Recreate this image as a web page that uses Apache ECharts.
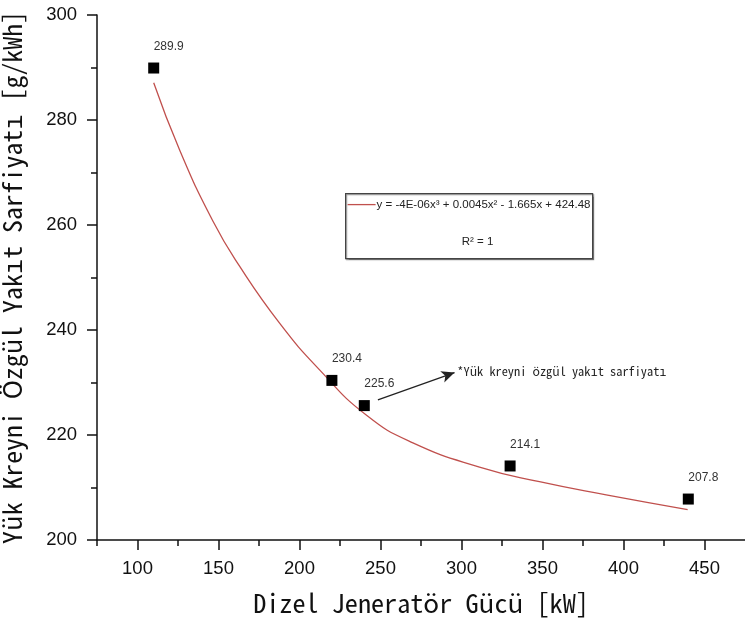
<!DOCTYPE html>
<html>
<head>
<meta charset="utf-8">
<script src="https://cdn.jsdelivr.net/npm/echarts@6/dist/echarts.min.js"></script>
<style>html,body{margin:0;padding:0;background:#fff}#c{width:745px;height:623px}</style>
</head>
<body>
<div id="c"></div>
<script>
// Measured points
const powerKW = [110, 220, 240, 330, 440];
const sfc = [289.9, 230.4, 225.6, 214.1, 207.8];
// Trend curve
const fitX = [110, 126.0, 146.6, 163.1, 187.7, 212.4, 241.2, 270.0, 311.1, 348.1, 389.3, 439.6];
const fitY = [287.1, 274.3, 260.7, 252.1, 241.3, 232.4, 223.8, 218.5, 213.9, 211.1, 208.6, 205.8];
const xMajorTicks = [100, 150, 200, 250, 300, 350, 400, 450];
const xMinorTicks = [75, 125, 175, 225, 275, 325, 375, 425];
// Annotation arrow (start, end) in data units
const arrowFrom = [248.4, 226.7];
const arrowTo = [295.7, 231.9];

const xTitle = 'Dizel Jeneratör Gücü [kW]';
const yTitle = 'Yük Kreyni Özgül Yakıt Sarfiyatı [g/kWh]';
const noteText = '*Yük kreyni özgül yakıt sarfiyatı';
const eqText = 'y = -4E-06x³ + 0.0045x² - 1.665x + 424.48';
const r2Text = 'R² = 1';

const mono = '"Noto Sans Mono CJK JP", "Noto Sans Mono CJK SC", "Noto Sans Mono", "DejaVu Sans Mono", "Liberation Mono", monospace';
const sans = '"Liberation Sans", Arial, sans-serif';

const cv = document.createElement('canvas').getContext('2d');
function fitSize(text, fam, w) { cv.font = '100px ' + fam; return Math.round(100 * w / cv.measureText(text).width * 10) / 10; }
const xTitleSize = fitSize(xTitle, mono, 336);
const yTitleSize = fitSize(yTitle, mono, 533);
const noteSize = fitSize(noteText, mono, 210);

const chart = echarts.init(document.getElementById('c'));
chart.setOption({
  animation: false,
  grid: { left: 97, right: 0, top: 15, bottom: 83, containLabel: false, outerBoundsMode: 'none' },
  xAxis: [{
    type: 'value', min: 75, max: 475,
    axisLine: { lineStyle: { color: '#111', width: 1.5 } },
    axisTick: { customValues: xMajorTicks, length: 10, lineStyle: { color: '#111', width: 1.5 } },
    axisLabel: { customValues: xMajorTicks, margin: 19, fontSize: 18.5, color: '#111', fontFamily: sans },
    splitLine: { show: false },
    name: xTitle, nameLocation: 'middle', nameGap: 50,
    nameTextStyle: { fontSize: xTitleSize, fontFamily: mono, color: '#111' }
  }, {
    type: 'value', min: 75, max: 475, position: 'bottom', gridIndex: 0,
    axisLine: { show: false },
    axisTick: { customValues: xMinorTicks, length: 6, lineStyle: { color: '#111', width: 1.5 } },
    axisLabel: { show: false }, splitLine: { show: false }
  }],
  yAxis: {
    type: 'value', min: 200, max: 300, interval: 20,
    axisLine: { show: true, lineStyle: { color: '#111', width: 1.5 } },
    axisTick: { show: true, length: 10, lineStyle: { color: '#111', width: 1.5 } },
    minorTick: { show: true, splitNumber: 2, length: 6, lineStyle: { color: '#111', width: 1.5 } },
    axisLabel: { margin: 20, fontSize: 18.5, color: '#111', fontFamily: sans },
    splitLine: { show: false },
    name: yTitle, nameLocation: 'middle', nameGap: 72,
    nameTextStyle: { fontSize: yTitleSize, fontFamily: mono, color: '#111' }
  },
  series: [{
    type: 'line', name: 'fit', xAxisIndex: 0,
    data: fitX.map((x, i) => [x, fitY[i]]),
    smooth: 0.5, showSymbol: false, symbol: 'none',
    lineStyle: { color: '#c0504d', width: 1.3 }, z: 2
  }, {
    type: 'scatter', xAxisIndex: 0,
    data: powerKW.map((x, i) => [x, sfc[i]]),
    symbol: 'rect', symbolSize: 11,
    itemStyle: { color: '#000', opacity: 1 },
    label: { show: true, position: 'top', offset: [15, -5], fontSize: 12, color: '#333', fontFamily: sans,
      formatter: p => p.value[1].toFixed(1) },
    z: 3,
    markLine: {
      silent: true, animation: false,
      symbol: ['none', 'arrow'], symbolSize: [9, 13],
      lineStyle: { color: '#222', width: 1.3, type: 'solid' },
      label: { show: true, position: 'end', distance: 3, formatter: noteText,
        fontSize: noteSize, fontFamily: mono, color: '#222' },
      data: [[{ coord: arrowFrom }, { coord: arrowTo }]]
    }
  }],
  graphic: [{
    type: 'group', left: 345, top: 193,
    children: [
      { type: 'rect', shape: { x: 0, y: 0, width: 247, height: 65 },
        style: { fill: '#fff', stroke: '#444', lineWidth: 1.2, shadowColor: 'rgba(0,0,0,0.35)', shadowOffsetX: 1, shadowOffsetY: 1, shadowBlur: 1 } },
      { type: 'line', shape: { x1: 2, y1: 11, x2: 30, y2: 11 }, style: { stroke: '#c0504d', lineWidth: 1.3 } },
      { type: 'text', x: 31, y: 11, style: { text: eqText, fontSize: 11.5, fontFamily: sans, fill: '#222', verticalAlign: 'middle', align: 'left' } },
      { type: 'text', x: 132, y: 48, style: { text: r2Text, fontSize: 11.5, fontFamily: sans, fill: '#222', verticalAlign: 'middle', align: 'center' } }
    ]
  }]
});
</script>
</body>
</html>
